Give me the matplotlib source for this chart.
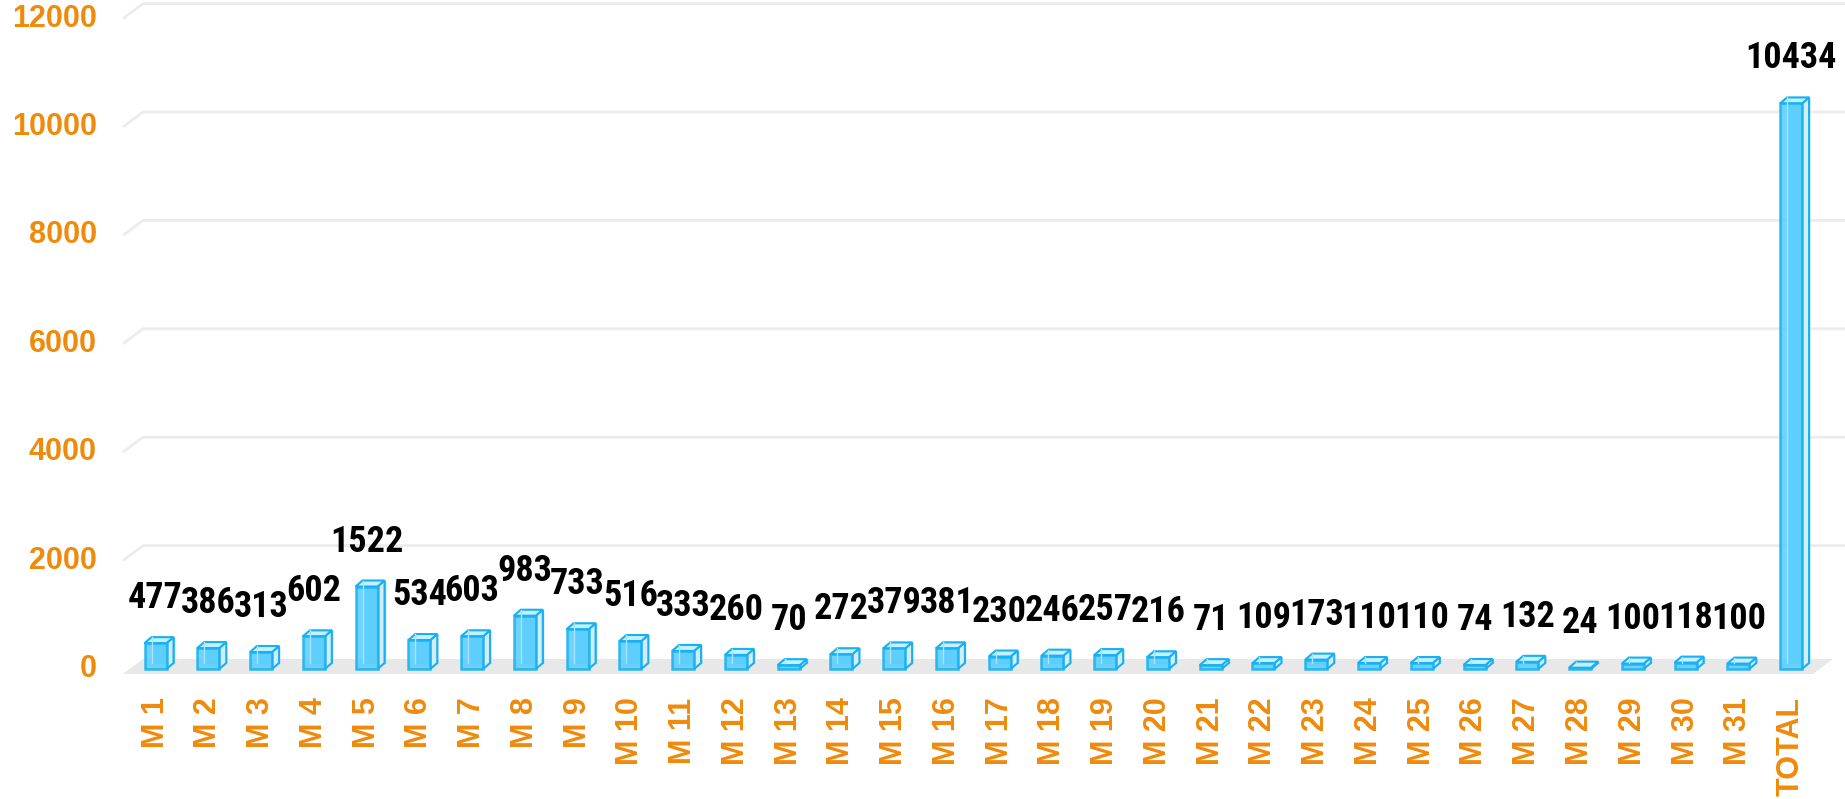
import matplotlib
matplotlib.use("Agg")
import matplotlib.pyplot as plt
from matplotlib.patches import Polygon
from matplotlib import font_manager

# data
categories = ["M %d" % k for k in range(1, 32)] + ["TOTAL"]
values = [477, 386, 313, 602, 1522, 534, 603, 983, 733, 516, 333, 260, 70,
          272, 379, 381, 230, 246, 257, 216, 71, 109, 173, 110, 110, 74, 132,
          24, 100, 118, 100, 10434]
yticks = [0, 2000, 4000, 6000, 8000, 10000, 12000]

orange = "#ef8a0b"
edge = "#17b0f2"

# narrow bold face for the value labels, if one is installed
names = {f.name for f in font_manager.fontManager.ttflist}
label_font = "Liberation Sans"
for cand in ["Liberation Sans Narrow", "Arial Narrow", "Roboto Condensed", "Archivo Narrow",
             "PT Sans Narrow", "Open Sans Condensed", "IBM Plex Sans Condensed"]:
    if cand in names:
        label_font = cand
        break

W, H = 1845, 799
fig = plt.figure(figsize=(W / 100, H / 100), dpi=100)

# pixel layout of the plot
left_px, bottom_px = 110, 680
base_px, ppu_y = 669, 0.0542       # y pixel of zero, pixels per unit
x0_px, step_px = 155.5, 52.76      # first bar centre, spacing

ax = fig.add_axes([left_px / W, (H - bottom_px) / H, 1 - left_px / W, bottom_px / H])
ax.set_xlim((left_px - x0_px) / step_px, (W - x0_px) / step_px)
ax.set_ylim((base_px - bottom_px) / ppu_y, base_px / ppu_y)
for s in ax.spines.values():
    s.set_visible(False)

def px_x(p):
    return p / step_px

def px_y(p):
    return p / ppu_y

# back wall gridlines with perspective
wall_x = (123 - x0_px) / step_px
gdx, gdy = px_x(20), px_y(15)
xmax = ax.get_xlim()[1]
for t in yticks[1:]:
    ax.plot([wall_x, wall_x + gdx, xmax], [t, t + gdy, t + gdy],
            color="#ececec", lw=2, solid_capstyle="butt", zorder=1)

# floor
fy = -px_y(5)
fr = (1813 - x0_px) / step_px
ax.add_patch(Polygon([(wall_x, fy), (fr, fy), (fr + gdx, fy + gdy), (wall_x + gdx, fy + gdy)],
                     closed=True, facecolor="#e8e8e8", edgecolor="none", zorder=2))

# bars as transparent boxes
hw = px_x(11)
dx, dy = px_x(7), px_y(6)
for i, v in enumerate(values):
    xa, xb = i - hw, i + hw
    z = 3 + i * 0.01
    ax.add_patch(Polygon([(xa + dx, dy), (xb + dx, dy), (xb + dx, v + dy), (xa + dx, v + dy)],
                         closed=True, facecolor="#8fdcfa", edgecolor="#6fcdf4", lw=1, zorder=z))
    ax.add_patch(Polygon([(xb, 0), (xb + dx, dy), (xb + dx, v + dy), (xb, v)],
                         closed=True, facecolor="#d6ecf4", edgecolor=edge, lw=1.5, zorder=z))
    ax.add_patch(Polygon([(xa, v), (xb, v), (xb + dx, v + dy), (xa + dx, v + dy)],
                         closed=True, facecolor="#c4f0ff", edgecolor=edge, lw=1.5, zorder=z))
    ax.add_patch(Polygon([(xa, 0), (xb, 0), (xb, v), (xa, v)],
                         closed=True, facecolor="#58cefd", alpha=0.88, edgecolor=edge, lw=1.8, zorder=z))
    ax.plot([xa + dx, xa + dx], [dy, v + dy], color="#a9e4fb", lw=1, zorder=z + 0.005)
    ax.annotate(str(v), (i, v), xytext=(0, 45), textcoords="offset pixels",
                ha="center", va="center", fontsize=26, fontweight="bold",
                family=[label_font, "DejaVu Sans"], color="black", zorder=10)

ax.set_yticks(yticks)
ax.set_yticklabels([str(t) for t in yticks])
ax.set_xticks(range(len(categories)))
ax.set_xticklabels(categories, rotation=90)
ax.tick_params(axis="y", length=0, pad=9.5, labelcolor=orange)
ax.tick_params(axis="x", length=0, pad=12.5, labelcolor=orange)
for lab in ax.get_yticklabels() + ax.get_xticklabels():
    lab.set_fontsize(22)
    lab.set_fontweight("bold")
    lab.set_family("Liberation Sans")
for lab in ax.get_yticklabels():
    lab.set_va("center")

fig.savefig("out.png", dpi=100)
